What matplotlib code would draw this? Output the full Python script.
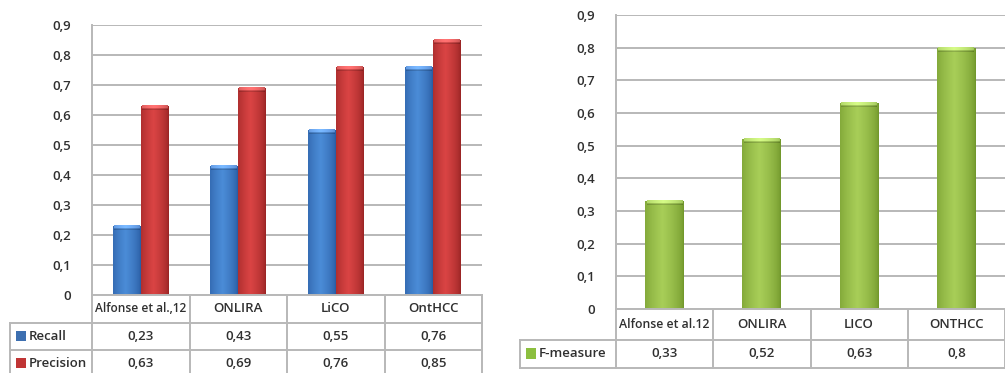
import matplotlib
matplotlib.use("Agg")
import matplotlib.pyplot as plt
import numpy as np
from matplotlib.patches import Rectangle

# ---- data ----
cats_left = ["Alfonse et al.,12", "ONLIRA", "LiCO", "OntHCC"]
recall = [0.23, 0.43, 0.55, 0.76]
precision = [0.63, 0.69, 0.76, 0.85]
cats_right = ["Alfonse et al.12", "ONLIRA", "LICO", "ONTHCC"]
fmeasure = [0.33, 0.52, 0.63, 0.8]
yticks = [0, 0.1, 0.2, 0.3, 0.4, 0.5, 0.6, 0.7, 0.8, 0.9]

plt.rcParams['font.family'] = ['Open Sans', 'DejaVu Sans']
TXT = '#303030'
GRID = '#b8b8b8'
FS = 9.5
FW = 'semibold'

def fmt(v):
    return f"{v:g}".replace('.', ',')

def gradient_bar(ax, bars, edge, mid, cap_px_units):
    edge = np.array(edge) / 255.0
    mid = np.array(mid) / 255.0
    t = np.linspace(0, 1, 64)
    prof = 1 - np.abs(t - 0.45) / 0.55
    prof = np.clip(prof, 0, 1) ** 0.6
    row = edge[None, :] + (mid - edge)[None, :] * prof[:, None]
    img = np.repeat(row[None, :, :], 2, axis=0)
    light = np.clip(row + 0.18, 0, 1)
    cap = np.stack([row * 0.85, light, light * 0.98 + 0.02], axis=0)
    for b in bars:
        x0, w, h = b.get_x(), b.get_width(), b.get_height()
        b.set_facecolor(mid)
        b.set_edgecolor('none')
        im = ax.imshow(img, extent=[x0, x0 + w, 0, h], aspect='auto',
                       zorder=3, interpolation='bilinear', origin='lower')
        im.set_clip_path(b)
        ax.imshow(cap, extent=[x0 + w * 0.04, x0 + w * 0.96, h - cap_px_units, h],
                  aspect='auto', zorder=3.5, interpolation='bilinear', origin='lower')

def style_axes(ax):
    ax.set_ylim(0, 0.9)
    ax.set_xlim(-0.5, 3.5)
    ax.set_yticks(yticks)
    ax.set_yticklabels([fmt(v) for v in yticks], fontsize=FS, color=TXT, fontweight=FW)
    ax.tick_params(axis='y', length=0, pad=15)
    ax.set_xticks([])
    for s in ['top', 'right', 'bottom']:
        ax.spines[s].set_visible(False)
    ax.spines['left'].set_color(GRID)
    ax.spines['left'].set_linewidth(1.4)
    ax.yaxis.grid(True, color=GRID, linewidth=1.4)
    ax.set_axisbelow(True)

def draw_table(ax, cats, series, labels, colors, header_h, row_h, label_left, first_fs, sq_h):
    kw = dict(color=GRID, linewidth=1.4, clip_on=False, zorder=5)
    nrows = len(series)
    bottom = -header_h - nrows * row_h
    xs = [-0.5, 0.5, 1.5, 2.5, 3.5]
    for x in xs:
        ax.plot([x, x], [0, bottom], **kw)
    ax.plot([-0.5, 3.5], [0, 0], **kw)
    ax.plot([label_left, label_left], [-header_h, bottom], **kw)
    for r in range(nrows + 1):
        y = -header_h - r * row_h
        ax.plot([label_left, 3.5], [y, y], **kw)
    for i, c in enumerate(cats):
        ax.text(i, -header_h / 2, c, ha='center', va='center',
                fontsize=first_fs if i == 0 else FS, fontweight=FW,
                color=TXT, clip_on=False)
    for r, (vals, lab, col) in enumerate(zip(series, labels, colors)):
        yc = -header_h - (r + 0.5) * row_h
        for i, v in enumerate(vals):
            ax.text(i, yc, fmt(v), ha='center', va='center', fontsize=FS,
                    fontweight=FW, color=TXT, clip_on=False)
        ax.text(label_left + 0.195, yc, lab, ha='left', va='center', fontsize=FS,
                fontweight=FW, color=TXT, clip_on=False)
        sq = Rectangle((label_left + 0.06, yc - sq_h * 0.45), 0.1, sq_h, facecolor=col,
                       edgecolor='none', clip_on=False, zorder=6)
        ax.add_patch(sq)

fig = plt.figure(figsize=(10.05, 3.73), dpi=100)

# ---- left chart ----
axL = fig.add_axes([92 / 1005, 78 / 373, 390 / 1005, 270 / 373])
x = np.arange(len(cats_left))
w = 0.287
bR = axL.bar(x - w / 2, recall, w, zorder=3)
bP = axL.bar(x + w / 2, precision, w, zorder=3)
gradient_bar(axL, bR, (40, 90, 160), (75, 140, 215), 0.014)
gradient_bar(axL, bP, (150, 35, 35), (218, 68, 68), 0.014)
style_axes(axL)
draw_table(axL, cats_left, [recall, precision], ["Recall", "Precision"],
           ['#3d6fb0', '#c03535'], 0.0933, 0.09, -1.341, 8.6, 0.033)

# ---- right chart ----
axR = fig.add_axes([616 / 1005, 64 / 373, 389 / 1005, 294 / 373])
x2 = np.arange(len(cats_right))
bF = axR.bar(x2, fmeasure, 0.40, zorder=3)
gradient_bar(axR, bF, (112, 150, 42), (168, 206, 88), 0.013)
style_axes(axR)
draw_table(axR, cats_right, [fmeasure], ["F-measure"], ['#8cbf3f'],
           0.0949, 0.0857, -1.487, 8.8, 0.031)

fig.savefig("out.png", dpi=100, facecolor='white')
